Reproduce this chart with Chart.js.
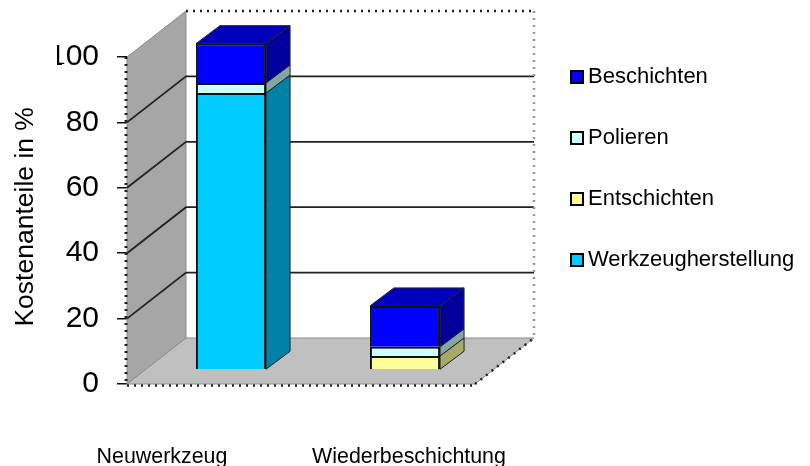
<!DOCTYPE html>
<html lang="de">
<head>
  <meta charset="UTF-8">
  <title>Kostenanteile</title>
  <script src="https://cdn.jsdelivr.net/npm/chart.js"></script>
  <style>
    html, body { margin: 0; padding: 0; background: #fff; }
    #wrap { width: 810px; height: 466px; }
  </style>
</head>
<body>
  <div id="wrap"><canvas id="chart"></canvas></div>
  <script>
    const categories = ['Neuwerkzeug', 'Wiederbeschichtung'];
    const seriesNames = ['Werkzeugherstellung', 'Entschichten', 'Polieren', 'Beschichten'];
    const werkzeugherstellung = [84.7, null];
    const entschichten = [null, 4.3];
    const polieren = [3.1, 2.8];
    const beschichten = [12, 12.5];
    const yTicks = [0, 20, 40, 60, 80, 100];

    const frontColors = ['#00ccff', '#ffff99', '#ccffff', '#0000ff'];
    const sideColors = ['#0082a6', '#a8a868', '#82a6a6', '#00009c'];
    const topColor = '#0000bc';

    const font = 'Liberation Sans, Arial, sans-serif';
    const wall = { dx: 59, dy: -46 };
    const barShift = { x: 17, y: -14 };
    const barDepth = { x: 24, y: -18 };
    const labelShift = [-52, 21];

    function poly(ctx, pts, fill, stroke, width) {
      ctx.beginPath();
      pts.forEach((p, i) => i ? ctx.lineTo(p[0], p[1]) : ctx.moveTo(p[0], p[1]));
      ctx.closePath();
      if (fill) { ctx.fillStyle = fill; ctx.fill(); }
      if (stroke) { ctx.strokeStyle = stroke; ctx.lineWidth = width || 1; ctx.stroke(); }
    }

    function dotted(ctx, x1, y1, x2, y2, color, width) {
      ctx.save();
      ctx.setLineDash([2, 5]);
      ctx.strokeStyle = color;
      ctx.lineWidth = width;
      ctx.beginPath();
      ctx.moveTo(x1, y1);
      ctx.lineTo(x2, y2);
      ctx.stroke();
      ctx.restore();
    }

    const box3d = {
      id: 'box3d',
      beforeDatasetsDraw(chart) {
        const ctx = chart.ctx;
        const { left, right, bottom } = chart.chartArea;
        const y = chart.scales.y;
        const top = y.getPixelForValue(100);
        const bx = left + wall.dx;
        const rx = right + wall.dx;

        // walls and floor
        poly(ctx, [[left, bottom], [bx, bottom + wall.dy], [bx, top + wall.dy], [left, top]], '#a6a6a6', '#8c8c8c', 1);
        poly(ctx, [[left, bottom], [bx, bottom + wall.dy], [rx, bottom + wall.dy], [right, bottom]], '#c0c0c0', '#8c8c8c', 1);

        // gridlines run along the side wall and then the back wall
        yTicks.slice(1, -1).forEach(v => {
          const py = y.getPixelForValue(v);
          ctx.strokeStyle = '#222';
          ctx.lineWidth = 1.8;
          ctx.beginPath();
          ctx.moveTo(left, py);
          ctx.lineTo(bx, py + wall.dy);
          ctx.lineTo(rx, py + wall.dy);
          ctx.stroke();
        });

        dotted(ctx, bx, top + wall.dy, rx, top + wall.dy, '#222', 2.5);
        dotted(ctx, rx, top + wall.dy, rx, bottom + wall.dy, '#999', 2.5);
        dotted(ctx, left - 1, top, left - 1, bottom, '#222', 3);
        dotted(ctx, left, bottom + 1.5, right, bottom + 1.5, '#222', 2.5);
        dotted(ctx, right, bottom, rx, bottom + wall.dy, '#222', 2.5);

        // side and top faces of the stacked bars
        ctx.save();
        ctx.translate(barShift.x, barShift.y);
        categories.forEach((c, i) => {
          let last = null;
          chart.data.datasets.forEach((ds, d) => {
            if (ds.data[i] == null) return;
            const bar = chart.getDatasetMeta(d).data[i];
            const r = bar.x + bar.width / 2;
            poly(ctx, [[r, bar.base], [r + barDepth.x, bar.base + barDepth.y],
              [r + barDepth.x, bar.y + barDepth.y], [r, bar.y]], sideColors[d], '#222', 1);
            last = bar;
          });
          const l = last.x - last.width / 2;
          const r = last.x + last.width / 2;
          poly(ctx, [[l, last.y], [l + barDepth.x, last.y + barDepth.y],
            [r + barDepth.x, last.y + barDepth.y], [r, last.y]], topColor, '#222', 1);
        });
      },
      afterDatasetsDraw(chart) {
        chart.ctx.restore();
      },
      afterDraw(chart) {
        const ctx = chart.ctx;
        const xs = chart.scales.x;

        // the "1" of 100 is cut off on the left in the original
        ctx.save();
        ctx.fillStyle = '#fff';
        ctx.fillRect(40, 40, 17, 34);
        ctx.fillRect(62, 64, 3, 8);

        // category labels
        ctx.fillStyle = '#000';
        ctx.textBaseline = 'alphabetic';
        ctx.textAlign = 'center';
        ctx.font = '21.4px ' + font;
        categories.forEach((c, i) => ctx.fillText(c, xs.getPixelForValue(i) + labelShift[i], 463));

        // legend, top series first
        ctx.textAlign = 'left';
        ctx.textBaseline = 'middle';
        ctx.font = '22px ' + font;
        seriesNames.slice().reverse().forEach((name, i) => {
          const ly = 77 + i * 61;
          ctx.fillStyle = frontColors[seriesNames.length - 1 - i];
          ctx.strokeStyle = '#000';
          ctx.lineWidth = 2;
          ctx.fillRect(571, ly - 6, 12, 12);
          ctx.strokeRect(571, ly - 6, 12, 12);
          ctx.fillStyle = '#000';
          ctx.fillText(name, 588, ly);
        });
        ctx.restore();
      }
    };

    const seriesValues = [werkzeugherstellung, entschichten, polieren, beschichten];

    new Chart(document.getElementById('chart'), {
      type: 'bar',
      data: {
        labels: categories,
        datasets: seriesNames.map((name, i) => ({
          label: name,
          data: seriesValues[i],
          backgroundColor: frontColors[i],
          borderColor: '#111',
          borderWidth: 2,
          barPercentage: 1,
          categoryPercentage: 0.403,
          clip: false
        }))
      },
      options: {
        responsive: true,
        maintainAspectRatio: false,
        animation: false,
        layout: { padding: { top: 57, right: 335, bottom: 82, left: 0 } },
        plugins: { legend: { display: false }, tooltip: { enabled: false } },
        scales: {
          x: {
            stacked: true,
            border: { display: false },
            grid: { display: false },
            ticks: { display: false },
            afterFit: s => { s.height = 0; }
          },
          y: {
            stacked: true,
            min: 0,
            max: 100,
            afterFit: s => { s.width = 127; },
            border: { display: false },
            grid: { drawOnChartArea: false, color: '#111', tickLength: 10, lineWidth: 1.5 },
            ticks: {
              stepSize: 20,
              padding: 18,
              color: '#000',
              font: { family: font, size: 30 }
            },
            title: {
              display: true,
              text: '\u00a0Kostenanteile in %',
              color: '#000',
              font: { family: font, size: 26.5 },
              padding: { top: 10, bottom: 0 }
            }
          }
        }
      },
      plugins: [box3d]
    });
  </script>
</body>
</html>
